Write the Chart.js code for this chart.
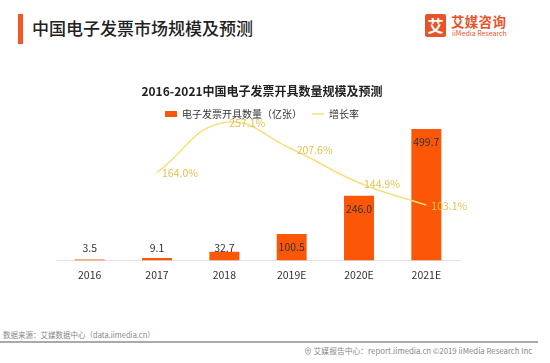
<!DOCTYPE html>
<html>
<head>
<meta charset="utf-8">
<script src="https://cdn.jsdelivr.net/npm/chart.js@4/dist/chart.umd.min.js"></script>
<style>
  html, body { margin: 0; padding: 0; background: #fff; }
  body { width: 550px; height: 363px; position: relative; overflow: hidden; font-family: 'Noto Sans CJK SC', 'Noto Sans', sans-serif; }
  .bar { position: absolute; left: 18px; top: 14px; width: 5px; height: 30px; background: #f05a22; }
  .title { position: absolute; left: 32px; top: 17px; font-size: 17px; line-height: 22px; font-weight: 500; color: #222; white-space: nowrap; }
  .logo-box { position: absolute; left: 425px; top: 14px; width: 21px; height: 23px; background: #e8542a; border-radius: 2px; color: #fff; font-size: 16px; font-weight: bold; line-height: 23px; text-align: center; }
  .logo-cn { position: absolute; left: 451px; top: 13px; font-size: 13.5px; line-height: 16px; font-weight: bold; color: #e8542a; letter-spacing: 0.3px; white-space: nowrap; }
  .logo-en { position: absolute; left: 452px; top: 29px; font-size: 7px; line-height: 9px; color: #e8542a; white-space: nowrap; }
  #wrap { position: absolute; left: 0; top: 78px; width: 524px; height: 217px; }
  .source { position: absolute; left: 3px; top: 330px; font-size: 7.5px; line-height: 10px; color: #888; white-space: nowrap; }
  .rule { position: absolute; left: 0; top: 341px; width: 538px; height: 1.5px; background: #aaa; }
  .foot { position: absolute; left: 304px; top: 346px; font-size: 7.8px; line-height: 10px; color: #888; white-space: nowrap; }
</style>
</head>
<body>
<div class="bar"></div>
<div class="title">中国电子发票市场规模及预测</div>
<div class="logo-box">艾</div>
<div class="logo-cn">艾媒咨询</div>
<div class="logo-en">iiMedia Research</div>
<div id="wrap"><canvas id="chart"></canvas></div>
<div class="source">数据来源：艾媒数据中心（data.iimedia.cn）</div>
<div class="rule"></div>
<div class="foot">⊕ 艾媒报告中心：report.iimedia.cn ©2019 iiMedia Research Inc</div>
<script>
const FONT = "'Noto Sans CJK SC', 'Noto Sans', sans-serif";
const years = ['2016', '2017', '2018', '2019E', '2020E', '2021E'];
const volumes = [3.5, 9.1, 32.7, 100.5, 246.0, 499.7];
const growth = [null, 164.0, 257.1, 207.6, 144.9, 103.1];
const chartTitle = '2016-2021中国电子发票开具数量规模及预测';
const volumeLabel = '电子发票开具数量（亿张）';
const growthLabel = '增长率';

// bar values inside the top of tall bars, just above short ones; rates right of each point
const valueLabels = {
  id: 'valueLabels',
  afterDatasetsDraw(chart) {
    const ctx = chart.ctx;
    const base = chart.chartArea.bottom;
    ctx.save();
    ctx.font = '10.5px ' + FONT;
    ctx.textBaseline = 'middle';
    ctx.textAlign = 'center';
    ctx.fillStyle = '#333';
    chart.getDatasetMeta(1).data.forEach((bar, i) => {
      const y = Math.min(base - 12, bar.y + 13);
      ctx.fillText(volumes[i].toFixed(1), bar.x, y);
    });
    ctx.textAlign = 'left';
    ctx.fillStyle = '#e2c254';
    chart.getDatasetMeta(0).data.forEach((pt, i) => {
      if (growth[i] == null) return;
      ctx.fillText(growth[i].toFixed(1) + '%', pt.x + 5, pt.y + 1);
    });
    ctx.restore();
  }
};

new Chart(document.getElementById('chart'), {
  data: {
    labels: years,
    datasets: [
      {
        type: 'line', label: growthLabel, data: growth, yAxisID: 'y1', order: 0,
        borderColor: '#f6e07e', backgroundColor: '#f6e07e', borderWidth: 1.5,
        pointRadius: 0, pointStyle: 'line', tension: 0.45, clip: false
      },
      {
        type: 'bar', label: volumeLabel, data: volumes, yAxisID: 'y', order: 1,
        backgroundColor: '#fc5707', borderWidth: 0, pointStyle: 'rect',
        categoryPercentage: 1, barPercentage: 0.445
      }
    ]
  },
  options: {
    responsive: true,
    maintainAspectRatio: false,
    animation: false,
    layout: { padding: { top: 0, bottom: 6, left: 0, right: 0 } },
    plugins: {
      title: {
        display: true, text: chartTitle, color: '#222',
        font: { size: 12, weight: 'bold', family: FONT },
        padding: { top: 6, bottom: 0.6 }
      },
      legend: {
        position: 'top',
        labels: {
          usePointStyle: true, pointStyleWidth: 12, boxHeight: 6, padding: 10,
          color: '#333', font: { size: 10, family: FONT },
          sort: (a, b) => b.datasetIndex - a.datasetIndex
        }
      },
      tooltip: { enabled: false }
    },
    scales: {
      x: {
        grid: { display: false, drawTicks: false },
        border: { color: '#e2e2e2' },
        ticks: { color: '#333', padding: 8, font: { size: 10.5, family: FONT } }
      },
      y: {
        position: 'left', min: 0, max: 500,
        grid: { display: false }, border: { display: false }, ticks: { display: false },
        afterFit: scale => { scale.width = 56; }
      },
      y1: {
        position: 'right', min: 0, max: 245,
        grid: { display: false }, border: { display: false }, ticks: { display: false },
        afterFit: scale => { scale.width = 64; }
      }
    }
  },
  plugins: [valueLabels]
});
</script>
</body>
</html>
